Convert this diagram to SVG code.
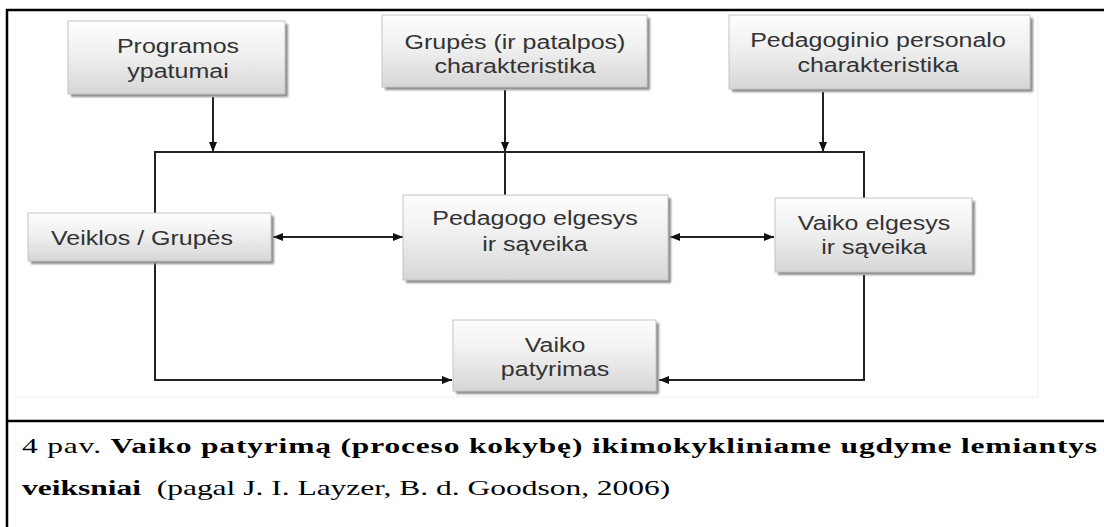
<svg xmlns="http://www.w3.org/2000/svg" width="1104" height="527" viewBox="0 0 1104 527">
<defs>
<linearGradient id="g" x1="0" y1="0" x2="0" y2="1">
<stop offset="0" stop-color="#fdfdfd"/>
<stop offset="0.45" stop-color="#f0f0f0"/>
<stop offset="1" stop-color="#d6d6d6"/>
</linearGradient>
<filter id="sh" x="-5%" y="-5%" width="115%" height="125%">
<feGaussianBlur stdDeviation="1"/>
</filter>
<marker id="ah" viewBox="0 0 10 8" refX="10" refY="4" markerWidth="10" markerHeight="8" markerUnits="userSpaceOnUse" orient="auto-start-reverse">
<path d="M0,0 L10,4 L0,8 Z" fill="#111"/>
</marker>
</defs>
<style>
.box{fill:url(#g);stroke:#c4c4c4;stroke-width:1}
.shd{fill:#8c8c8c;filter:url(#sh)}
.t{font-family:"Liberation Sans",Arial,sans-serif;font-size:20px;fill:#333;text-anchor:middle}
.ln{fill:none;stroke:#222;stroke-width:2}
.tb{stroke:#000;stroke-width:2.5;fill:none}
.cap{font-family:"Liberation Serif","Times New Roman",serif;font-size:21px;fill:#000}
</style>
<rect width="1104" height="527" fill="#fff"/>
<path d="M18 397 H1038 V15" fill="none" stroke="#efefef" stroke-width="1"/>

<g id="table">
<path class="tb" d="M7 527 V10 H1104"/>
<path class="tb" d="M7 421 H1104"/>
</g>

<g id="connectors">
<path class="ln" d="M213 97 V152" marker-end="url(#ah)"/>
<path class="ln" d="M505 90 V152" marker-end="url(#ah)"/>
<path class="ln" d="M823 92 V152" marker-end="url(#ah)"/>
<path class="ln" d="M505 152 V195"/>
<path class="ln" d="M155 213 V152 H864 V198"/>
<path class="ln" d="M273 237 H403" marker-start="url(#ah)" marker-end="url(#ah)"/>
<path class="ln" d="M670 237 H774" marker-start="url(#ah)" marker-end="url(#ah)"/>
<path class="ln" d="M155 263 V380 H452" marker-end="url(#ah)"/>
<path class="ln" d="M864 275 V380 H659" marker-end="url(#ah)"/>
</g>

<g id="n1">
<rect class="shd" x="71" y="24" width="217" height="73"/>
<rect class="box" x="68" y="21" width="217" height="73"/>
<text class="t" transform="matrix(1.25 0 0 1 178 53)">Programos</text>
<text class="t" transform="matrix(1.25 0 0 1 178 78)">ypatumai</text>
</g>
<g id="n2">
<rect class="shd" x="385" y="18" width="265" height="72"/>
<rect class="box" x="382" y="15" width="265" height="72"/>
<text class="t" transform="matrix(1.25 0 0 1 515 49)">Grupės (ir patalpos)</text>
<text class="t" transform="matrix(1.25 0 0 1 515 73)">charakteristika</text>
</g>
<g id="n3">
<rect class="shd" x="732" y="18" width="301" height="74"/>
<rect class="box" x="729" y="15" width="301" height="74"/>
<text class="t" transform="matrix(1.25 0 0 1 878 47)">Pedagoginio personalo</text>
<text class="t" transform="matrix(1.25 0 0 1 878 72)">charakteristika</text>
</g>
<g id="n4">
<rect class="shd" x="31" y="216" width="243" height="48"/>
<rect class="box" x="28" y="213" width="243" height="48"/>
<text class="t" transform="matrix(1.25 0 0 1 142 245)">Veiklos / Grupės</text>
</g>
<g id="n5">
<rect class="shd" x="406" y="198" width="265" height="85"/>
<rect class="box" x="403" y="195" width="265" height="85"/>
<text class="t" transform="matrix(1.25 0 0 1 535 225)">Pedagogo elgesys</text>
<text class="t" transform="matrix(1.25 0 0 1 535 251)">ir sąveika</text>
</g>
<g id="n6">
<rect class="shd" x="778" y="201" width="197" height="74"/>
<rect class="box" x="775" y="198" width="197" height="74"/>
<text class="t" transform="matrix(1.25 0 0 1 874 230)">Vaiko elgesys</text>
<text class="t" transform="matrix(1.25 0 0 1 874 254)">ir sąveika</text>
</g>
<g id="n7">
<rect class="shd" x="456" y="323" width="203" height="71"/>
<rect class="box" x="453" y="320" width="203" height="71"/>
<text class="t" transform="matrix(1.25 0 0 1 555 352)">Vaiko</text>
<text class="t" transform="matrix(1.25 0 0 1 555 376)">patyrimas</text>
</g>

<g id="caption" transform="scale(1.5 1)">
<text class="cap" x="14.67" y="453" textLength="716.7" lengthAdjust="spacing">4 pav. <tspan font-weight="bold">Vaiko patyrimą (proceso kokybę) ikimokykliniame ugdyme lemiantys</tspan></text>
<text class="cap" x="14.67" y="495"><tspan font-weight="bold">veiksniai</tspan>&#160; (pagal J. I. Layzer, B. d. Goodson, 2006)</text>
</g>
</svg>
